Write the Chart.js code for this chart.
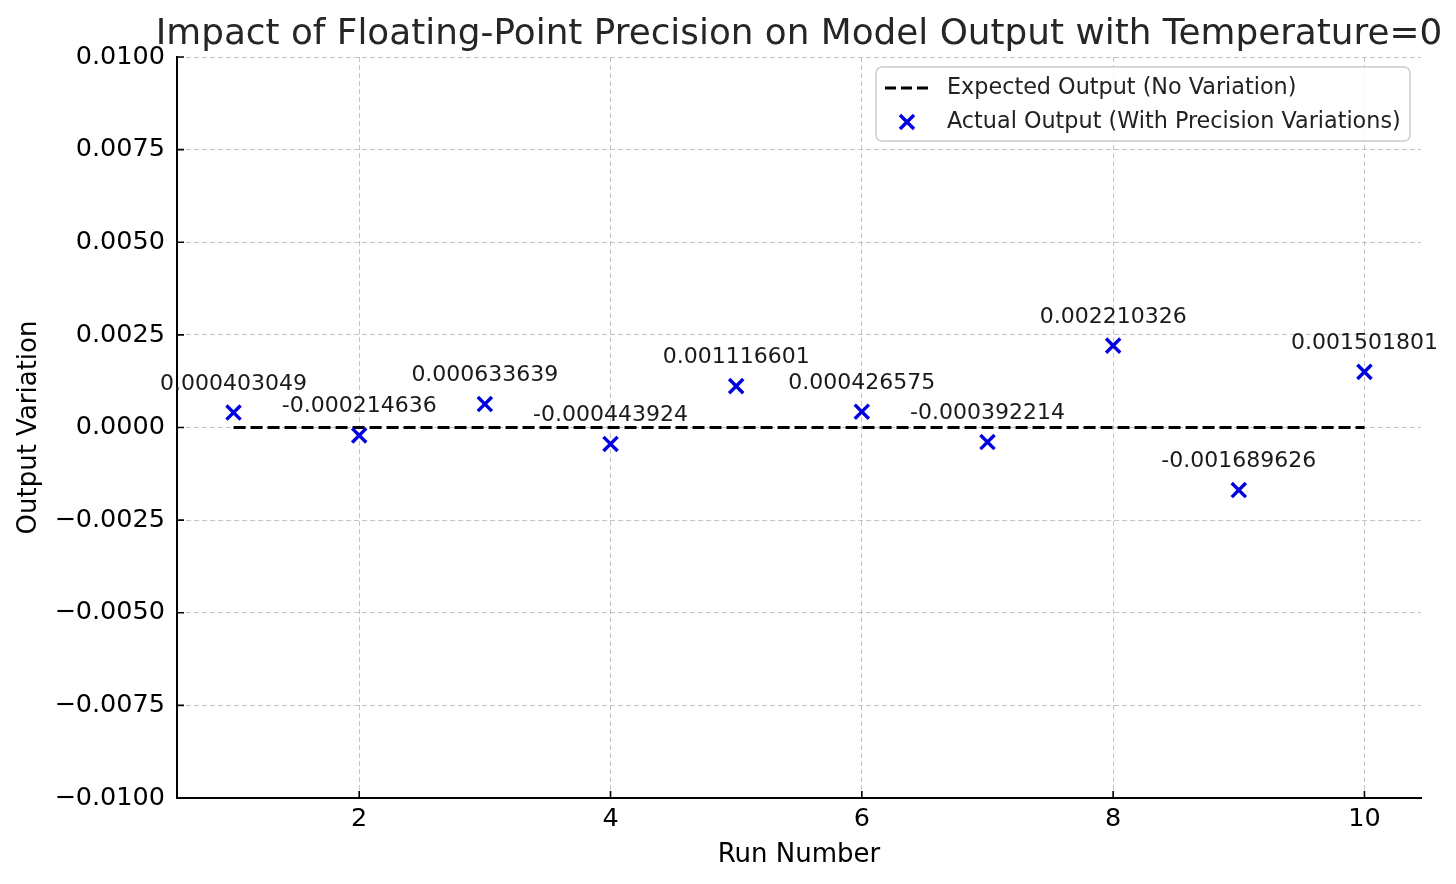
<!DOCTYPE html>
<html>
<head>
<meta charset="utf-8">
<title>Floating-point precision</title>
<script src="https://cdn.jsdelivr.net/npm/chart.js@4.4.1/dist/chart.umd.min.js"></script>
<style>
  html, body { margin: 0; padding: 0; background: #fff; }
  #wrap { width: 1456px; height: 884px; }
</style>
</head>
<body>
<div id="wrap"><canvas id="chart" width="1456" height="884"></canvas></div>
<script>
const runs = [1, 2, 3, 4, 5, 6, 7, 8, 9, 10];
const variations = [0.000403049, -0.000214636, 0.000633639, -0.000443924, 0.001116601,
  0.000426575, -0.000392214, 0.002210326, -0.001689626, 0.001501801];
const expected = [0, 0, 0, 0, 0, 0, 0, 0, 0, 0];
const xTicks = [2, 4, 6, 8, 10];
const titleText = "Impact of Floating-Point Precision on Model Output with Temperature=0";
const seriesNames = ["Expected Output (No Variation)", "Actual Output (With Precision Variations)"];

const FONT = "'DejaVu Sans', sans-serif";
const BLUE = "#0000e0";

const fmtTick = (v) => {
  const s = Math.abs(v).toFixed(4);
  return (v < -1e-9 ? "\u2212" : "") + s;
};

// title, inward ticks, point labels and legend box
const extras = {
  id: "extras",
  afterDraw(chart) {
    const { ctx, chartArea: area, scales } = chart;
    ctx.save();

    // title
    ctx.fillStyle = "#262626";
    ctx.font = `35.8px ${FONT}`;
    ctx.textAlign = "center";
    ctx.textBaseline = "alphabetic";
    ctx.fillText(titleText, (area.left + area.right) / 2, 44);

    // ticks pointing inward
    ctx.strokeStyle = "#000";
    ctx.lineWidth = 1.6;
    ctx.beginPath();
    scales.x.ticks.forEach((t) => {
      const px = scales.x.getPixelForValue(t.value);
      ctx.moveTo(px, area.bottom);
      ctx.lineTo(px, area.bottom - 7);
    });
    scales.y.ticks.forEach((t) => {
      const py = scales.y.getPixelForValue(t.value);
      ctx.moveTo(area.left, py);
      ctx.lineTo(area.left + 7, py);
    });
    ctx.stroke();

    // value labels above each point
    ctx.fillStyle = "#1a1a1a";
    ctx.font = `22px ${FONT}`;
    ctx.textAlign = "center";
    ctx.textBaseline = "alphabetic";
    chart.getDatasetMeta(1).data.forEach((pt, i) => {
      ctx.fillText(variations[i].toFixed(9), pt.x, pt.y - 23);
    });

    // legend
    const w = 534, h = 74;
    const bx = area.right - 11 - w, by = area.top + 10;
    ctx.beginPath();
    ctx.roundRect(bx, by, w, h, 6);
    ctx.fillStyle = "rgba(255,255,255,0.85)";
    ctx.fill();
    ctx.strokeStyle = "#cccccc";
    ctx.lineWidth = 1.5;
    ctx.stroke();

    const y1 = by + 21, y2 = by + 55;
    ctx.strokeStyle = "#000";
    ctx.lineWidth = 3;
    ctx.setLineDash([11, 5]);
    ctx.beginPath();
    ctx.moveTo(bx + 9, y1);
    ctx.lineTo(bx + 55, y1);
    ctx.stroke();
    ctx.setLineDash([]);

    ctx.strokeStyle = BLUE;
    ctx.lineWidth = 3.4;
    const cx = bx + 31, r = 7;
    ctx.beginPath();
    ctx.moveTo(cx - r, y2 - r); ctx.lineTo(cx + r, y2 + r);
    ctx.moveTo(cx + r, y2 - r); ctx.lineTo(cx - r, y2 + r);
    ctx.stroke();

    ctx.fillStyle = "#222";
    ctx.font = `22.3px ${FONT}`;
    ctx.textAlign = "left";
    ctx.textBaseline = "middle";
    ctx.fillText(seriesNames[0], bx + 71, y1);
    ctx.fillText(seriesNames[1], bx + 71, y2);
    ctx.restore();
  }
};

new Chart(document.getElementById("chart"), {
  type: "scatter",
  data: {
    datasets: [
      {
        label: seriesNames[0],
        type: "line",
        data: runs.map((x, i) => ({ x, y: expected[i] })),
        borderColor: "#000",
        borderWidth: 3.2,
        borderDash: [12, 5],
        pointRadius: 0,
        fill: false,
        order: 2
      },
      {
        label: seriesNames[1],
        data: runs.map((x, i) => ({ x, y: variations[i] })),
        pointStyle: "crossRot",
        pointRadius: 10,
        borderColor: BLUE,
        backgroundColor: BLUE,
        pointBorderWidth: 3.4,
        order: 1
      }
    ]
  },
  options: {
    responsive: false,
    animation: false,
    devicePixelRatio: 1,
    layout: { padding: { top: 57, right: 35, left: 0, bottom: 0 } },
    plugins: {
      legend: { display: false },
      title: { display: false },
      tooltip: { enabled: false }
    },
    scales: {
      x: {
        type: "linear",
        min: 0.55,
        max: 10.45,
        afterFit: (s) => { s.height = 86; },
        afterBuildTicks: (s) => { s.ticks = xTicks.map((v) => ({ value: v })); },
        grid: { color: "rgba(176,176,176,0.75)", lineWidth: 1, drawTicks: false },
        border: { display: true, color: "#000", width: 2, dash: [5, 3] },
        ticks: { padding: 6, color: "#000", font: { family: FONT, size: 25.5 }, callback: (v) => String(v) },
        title: { display: true, text: "Run Number", color: "#000", font: { family: FONT, size: 26 }, padding: { top: 0, bottom: 13 } }
      },
      y: {
        min: -0.01,
        max: 0.01,
        afterFit: (s) => { s.width = 177; },
        grid: { color: "rgba(176,176,176,0.75)", lineWidth: 1, drawTicks: false },
        border: { display: true, color: "#000", width: 2, dash: [5, 3] },
        ticks: { stepSize: 0.0025, padding: 12, color: "#000", font: { family: FONT, size: 25.5 }, callback: fmtTick },
        title: { display: true, text: "Output Variation", color: "#000", font: { family: FONT, size: 26 }, padding: { top: 14, bottom: 0 } }
      }
    }
  },
  plugins: [extras]
});
</script>
</body>
</html>
